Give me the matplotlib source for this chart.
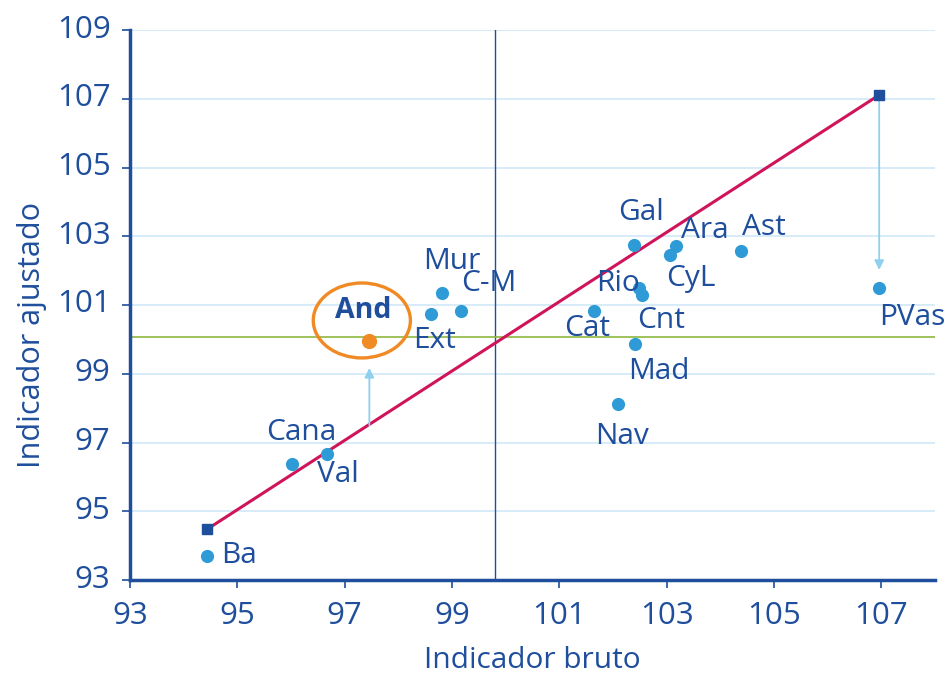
import matplotlib
matplotlib.use("Agg")
import matplotlib.pyplot as plt
import matplotlib.transforms as mtransforms
from matplotlib.patches import Ellipse

plt.rcParams['font.family'] = ['Open Sans', 'DejaVu Sans']

names = ["Ba", "Cana", "Val", "Ext", "Mur", "C-M", "Cat", "Gal", "Rio", "Cnt",
         "Mad", "Nav", "CyL", "Ara", "Ast", "PVas"]
bruto = [94.44, 96.01, 96.68, 98.60, 98.82, 99.16, 101.64, 102.39, 102.48, 102.54,
         102.41, 102.09, 103.06, 103.17, 104.39, 106.96]
ajustado = [93.70, 96.37, 96.67, 100.74, 101.35, 100.83, 100.83, 102.75, 101.49, 101.29,
            99.87, 98.12, 102.45, 102.72, 102.57, 101.49]
# label offsets (pixels) and alignment
offsets = [(14, 0, 'left'), (10, 32, 'center'), (10, -21, 'center'), (4, -27, 'center'),
           (9, 31, 'center'), (28, 27, 'center'), (-7, -18, 'center'), (7, 32, 'center'),
           (-21, 5, 'center'), (19, -25, 'center'), (24, -28, 'center'), (4, -33, 'center'),
           (21, -23, 'center'), (29, 15, 'center'), (23, 24, 'center'), (33, -29, 'center')]

and_x, and_y = 97.46, 99.95
line_x = [94.44, 106.96]
line_y = [94.48, 107.11]
mean_bruto = 99.81
mean_ajust = 100.07

xticks = list(range(93, 108, 2))
yticks = list(range(93, 110, 2))

navy = '#1f4e9c'
pt_col = '#2e9bd6'
grid_col = '#cfe9f7'
arrow_col = '#8fd0ef'

W, H = 949, 674
fig = plt.figure(figsize=(W / 100, H / 100), dpi=100)
ax = fig.add_axes([130 / W, 94 / H, 805 / W, 550 / H])
ax.set_xlim(93, 108)
ax.set_ylim(93, 109)

for y in yticks[1:]:
    ax.axhline(y, color=grid_col, lw=1.2, zorder=0)

ax.axvline(mean_bruto, color=navy, lw=1.0, zorder=1)
ax.axhline(mean_ajust, color='#8db640', lw=1.2, zorder=1)

ax.plot(line_x, line_y, color='#d0145a', lw=2.2, zorder=2)
ax.plot(line_x, line_y, 's', color=navy, ms=7, zorder=3, lw=0)

ax.annotate('', xy=(line_x[1], 102.02), xytext=(line_x[1], line_y[1]),
            arrowprops=dict(arrowstyle='-|>', color=arrow_col, lw=1.3,
                            mutation_scale=14, shrinkA=0, shrinkB=0), zorder=2)
ax.annotate('', xy=(and_x, 99.17), xytext=(and_x, 97.5),
            arrowprops=dict(arrowstyle='-|>', color=arrow_col, lw=1.3,
                            mutation_scale=14, shrinkA=0, shrinkB=0), zorder=2)

ax.scatter(bruto, ajustado, s=90, color=pt_col, zorder=4, linewidths=0)
ax.scatter([and_x], [and_y], s=120, color='#f08a24', zorder=4, linewidths=0)

for n, x, y, (dx, dy, ha) in zip(names, bruto, ajustado, offsets):
    ax.annotate(n, (x, y), xytext=(dx, dy), textcoords='offset pixels',
                ha=ha, va='center', fontsize=21.5, color=navy, zorder=5)

ax.annotate('And', (and_x, and_y), xytext=(-6, 31), textcoords='offset pixels',
            ha='center', va='center', fontsize=20.5, color=navy, fontweight='bold', zorder=5)
ax.add_patch(Ellipse((97.32, 100.55), 1.81, 2.18, fill=False, edgecolor='#f08a24',
                     lw=2.4, zorder=5))

for s in ['top', 'right']:
    ax.spines[s].set_visible(False)
for s in ['left', 'bottom']:
    ax.spines[s].set_color(navy)
    ax.spines[s].set_linewidth(2.5)

ax.set_xticks(xticks)
ax.set_yticks(yticks)
ax.tick_params(colors=navy, labelsize=22.5, width=1.2, length=6, direction='out')
ax.tick_params(axis='x', pad=9)
ax.tick_params(axis='y', pad=8)
shift = mtransforms.ScaledTranslation(0, 4 / 100, fig.dpi_scale_trans)
for lab in ax.get_yticklabels():
    lab.set_transform(lab.get_transform() + shift)

fig.text(532 / W, 1 - 660 / H, 'Indicador bruto', fontsize=21.5, color=navy,
         ha='center', va='center')
fig.text(32 / W, 1 - 335 / H, 'Indicador ajustado', fontsize=22, color=navy,
         ha='center', va='center', rotation=90)

fig.savefig('out.png', dpi=100)
